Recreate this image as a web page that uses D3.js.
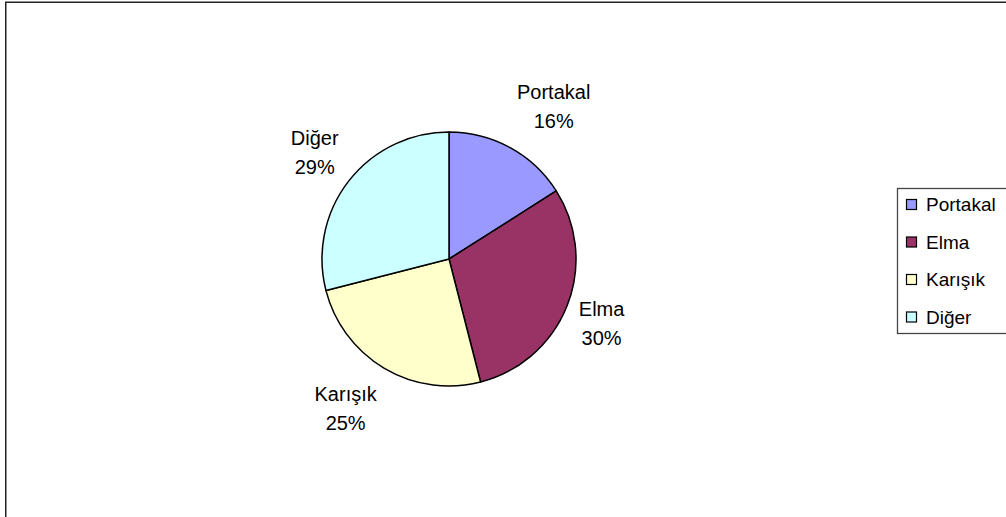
<!DOCTYPE html>
<html><head><meta charset="utf-8">
<script src="https://cdn.jsdelivr.net/npm/d3@7"></script>
<style>html,body{margin:0;padding:0;background:#fff;}svg{display:block;font-family:Arial,"Liberation Sans",sans-serif;}</style>
</head><body><svg id="c" width="1006" height="517"></svg>
<script>
const categories = ["Portakal", "Elma", "Karışık", "Diğer"];
const values = [16, 30, 25, 29];
const colors = ["#9999FF", "#993366", "#FFFFCC", "#CCFFFF"];

const svg = d3.select("#c");
// outer chart frame (extends beyond right/bottom edges)
svg.append("rect").attr("x", 5.75).attr("y", 2.25).attr("width", 1010).attr("height", 530)
  .attr("fill", "none").attr("stroke", "#222").attr("stroke-width", 1.5);

const cx = 449, cy = 259, r = 127;
const data = categories.map((c, i) => ({name: c, value: values[i], color: colors[i]}));
const pie = d3.pie().value(d => d.value).sort(null);
const arcs = pie(data);
const arc = d3.arc().innerRadius(0).outerRadius(r);
const g = svg.append("g").attr("transform", `translate(${cx},${cy})`);
g.selectAll("path").data(arcs).enter().append("path")
  .attr("d", arc).attr("fill", d => d.data.color)
  .attr("stroke", "#000").attr("stroke-width", 1.5).attr("stroke-linejoin", "round");

const total = d3.sum(values);
const fs = 20, lh = 29, cap = fs * 0.72;
arcs.forEach(a => {
  const mid = (a.startAngle + a.endAngle) / 2;
  const s = Math.sin(mid), c = Math.cos(mid);
  const t = g.append("text").attr("font-size", fs).attr("text-anchor", "middle").attr("fill", "#000");
  t.append("tspan").attr("x", 0).attr("dy", 0).text(a.data.name);
  t.append("tspan").attr("x", 0).attr("dy", lh).text(Math.round(a.data.value / total * 100) + "%");
  const w = t.node().getBBox().width;
  const h = cap + lh;
  const ox = (r + 10) * s + Math.sign(s) * w / 2 + 2 * Math.sign(s);
  const oy = -(r + 47) * c;
  t.attr("transform", `translate(${ox},${oy - h / 2 + cap})`);
});

// legend
const lx = 897, ly = 188, lhgt = 145, step = 37.5;
svg.append("rect").attr("x", lx + 0.5).attr("y", ly + 0.5).attr("width", 200).attr("height", lhgt)
  .attr("fill", "#fff").attr("stroke", "#444").attr("stroke-width", 1.3);
const lg = svg.append("g");
data.forEach((d, i) => {
  const yc = ly + 16.5 + i * step;
  lg.append("rect").attr("x", 906.5).attr("y", yc - 5).attr("width", 10).attr("height", 10)
    .attr("fill", d.color).attr("stroke", "#000").attr("stroke-width", 1.2);
  lg.append("text").attr("x", 926).attr("y", yc + 6.5).attr("font-size", 19).attr("fill", "#000").text(d.name);
});
</script></body></html>
